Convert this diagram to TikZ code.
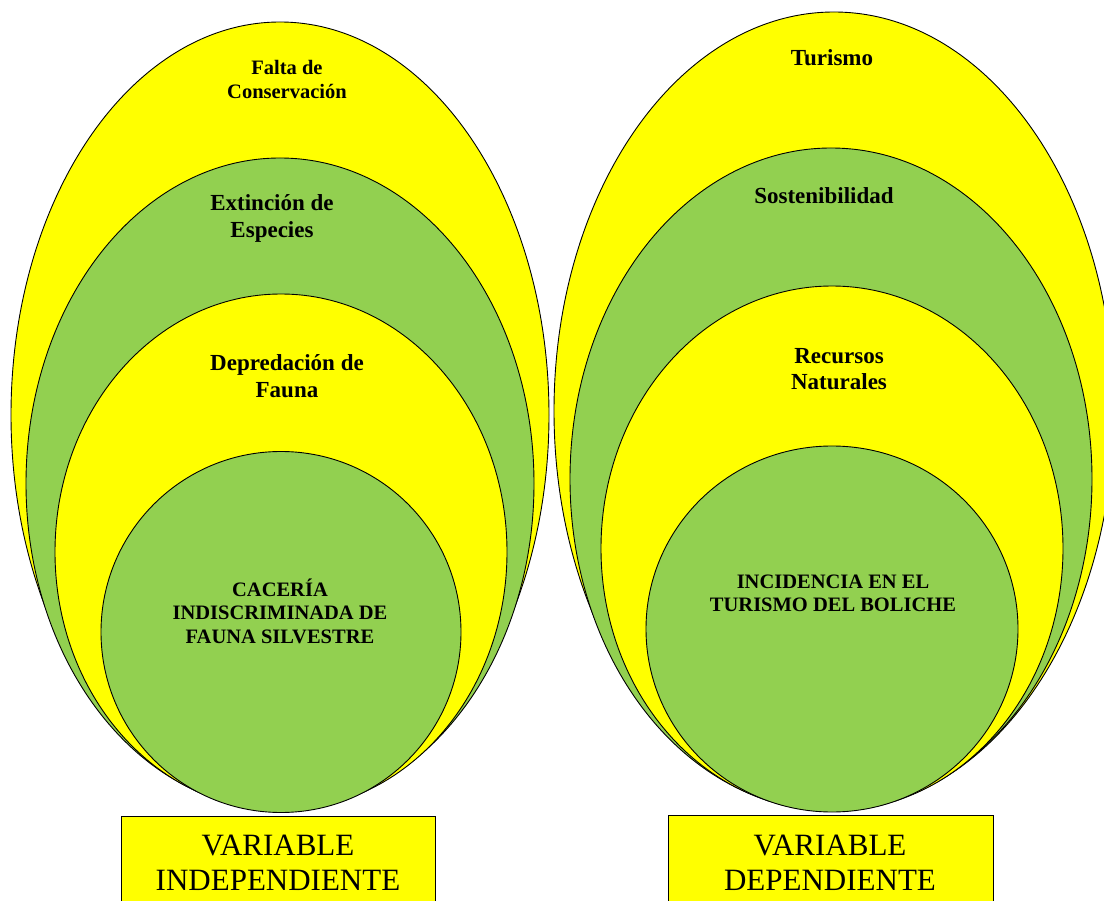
\documentclass[tikz,border=0pt]{standalone}
\usepackage{fontspec}
\setmainfont{Liberation Serif}
\definecolor{yel}{HTML}{FFFF00}
\definecolor{grn}{HTML}{92D050}
\tikzset{
  ylw/.style={fill=yel,draw=black,line width=0.9pt},
  gre/.style={fill=grn,draw=black,line width=0.9pt},
  lab/.style={align=center,inner sep=0pt,font=\bfseries\fontsize{23}{26.5}\selectfont},
  labs/.style={align=center,inner sep=0pt,font=\bfseries\fontsize{20.5}{23.5}\selectfont},
  varbox/.style={fill=yel,draw=black,line width=0.9pt},
  vartext/.style={align=center,inner sep=0pt,font=\fontsize{31}{35}\selectfont}
}
\begin{document}
\begin{tikzpicture}[x=1pt,y=-1pt]
\useasboundingbox (0,0) rectangle (1104,901);
\clip (0,0) rectangle (1104,901);
% left group
\path[ylw] (280,415) ellipse [x radius=269, y radius=393];
\path[gre] (280,483.5) ellipse [x radius=254, y radius=325.5];
\path[ylw] (281,552) ellipse [x radius=226, y radius=258];
\path[gre] (281,632) ellipse [x radius=180, y radius=180.5];
% right group
\path[ylw] (834,411) ellipse [x radius=280, y radius=399];
\path[gre] (831,479) ellipse [x radius=261, y radius=331];
\path[ylw] (832,548.5) ellipse [x radius=231, y radius=262.5];
\path[gre] (832,629) ellipse [x radius=186, y radius=183];
% labels left
\node[labs] (falta) at (287,79.5) {Falta de\\Conservación};
\node[lab] (ext) at (272,218.5) {Extinción de\\Especies};
\node[lab] (dep) at (287,376) {Depredación de\\Fauna};
\node[labs] (cac) at (280,611) {CACERÍA\\INDISCRIMINADA DE\\FAUNA SILVESTRE};
% labels right
\node[lab] (tur) at (832,58) {Turismo};
\node[lab] (sos) at (824,196) {Sostenibilidad};
\node[lab] (rec) at (839,369) {Recursos\\Naturales};
\node[labs] (inc) at (833,593.5) {INCIDENCIA EN EL\\TURISMO DEL BOLICHE};
% boxes
\path[varbox] (121.5,816) rectangle (435.5,915);
\path[varbox] (668.5,815.5) rectangle (993,915);
\node[vartext] (vi) at (278,862.5) {VARIABLE\\INDEPENDIENTE};
\node[vartext] (vd) at (830,862.5) {VARIABLE\\DEPENDIENTE};
\end{tikzpicture}
\end{document}
